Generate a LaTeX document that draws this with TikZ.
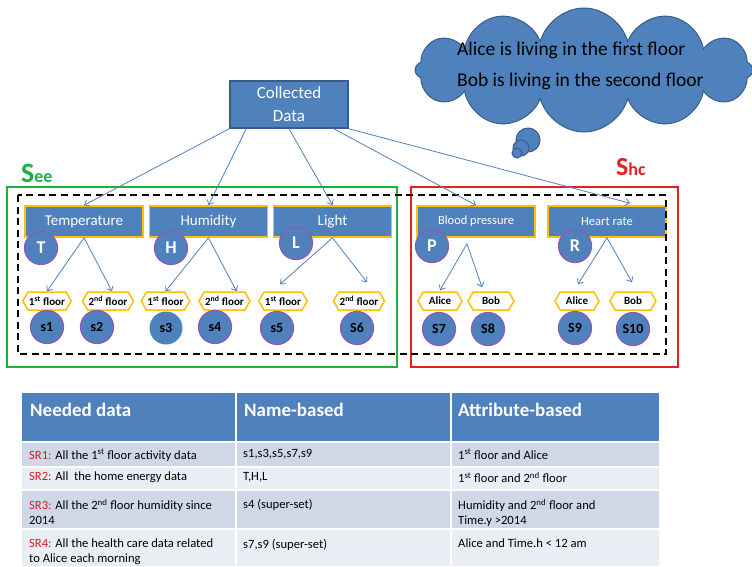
\documentclass[tikz,border=0pt]{standalone}
\usepackage{fontspec}
\setmainfont{Carlito}
\usepackage{xcolor}
\usepackage{tikz}
\usetikzlibrary{shapes.symbols, calc}
\usetikzlibrary{arrows.meta}
\definecolor{Cb}{RGB}{ 79,129,189}
\definecolor{Ce}{RGB}{ 56, 93,138}
\definecolor{Cg}{RGB}{255,192,  0}
\definecolor{Cp}{RGB}{140, 90,180}
\definecolor{Cgr}{RGB}{ 30,176, 60}
\definecolor{Cr}{RGB}{228, 32, 32}
\definecolor{Csr}{RGB}{212, 30, 30}
\definecolor{Crow1}{RGB}{208,216,232}
\definecolor{Crow2}{RGB}{233,237,244}

\tikzset{
    databox/.style={rectangle, fill=Cb, draw=Ce, line width=1.5pt, minimum width=118pt,
        minimum height=47pt, text=white, align=center, font=\fontsize{17}{23}\selectfont},
    cat/.style={rectangle, fill=Cb, draw=Cg, line width=1.6pt, minimum width=118pt,
        minimum height=31pt, text=white, font=\fontsize{15}{15}\selectfont},
    tag/.style={circle, fill=Cb, draw=Cp, line width=1.2pt, minimum size=33pt, inner sep=0pt,
        text=white, font=\bfseries\fontsize{18}{18}\selectfont},
    flag/.style={signal, signal to=west and east, signal pointer angle=120, fill=white, draw=Cg,
        line width=1.5pt, minimum height=18pt, inner xsep=1pt, inner ysep=0pt,
        font=\bfseries\fontsize{11}{11}\selectfont},
    sensor/.style={circle, fill=Cb, draw=Cp, line width=1.2pt, minimum size=33pt, inner sep=0pt,
        font=\bfseries\fontsize{14}{14}\selectfont},
    bubble/.style={circle, fill=Cb, draw=Ce, line width=1pt, inner sep=0pt},
    link/.style={Cb, line width=0.8pt, -{Straight Barb[length=4pt, width=7pt]}},
    thought/.style={anchor=base west, inner sep=0pt, font=\fontsize{19.5}{19.5}\selectfont},
    cell/.style={anchor=north west, inner sep=0pt, align=left, font=\fontsize{12.6}{15}\selectfont},
    head/.style={anchor=base west, inner sep=0pt, text=white, font=\bfseries\fontsize{19}{19}\selectfont},
}

\begin{document}
\begin{tikzpicture}[x=1pt, y=-1pt]

    \useasboundingbox (0,0) rectangle (752,566);

    %% Thought cloud
    \node[cloud, cloud puffs=12, aspect=2.9, fill=Cb, draw=Ce, line width=1pt,
          minimum width=338pt, minimum height=124pt] (cloud) at (584,70) {};
    \node[bubble, minimum size=24pt] (b1) at (528,140) {};
    \node[bubble, minimum size=16pt] (b2) at (521,148) {};
    \node[bubble, minimum size=10pt] (b3) at (517,153) {};
    \node[thought] (alice) at (457,55) {Alice is living in the first floor};
    \node[thought] (bob) at (457,86) {Bob is living in the second floor};

    %% Root
    \node[databox] (data) at (289,104.5) {Collected\\Data};

    %% Groups
    \node[anchor=base west, inner sep=0pt, text=Cgr, font=\bfseries] (see) at (21,182)
        {{\fontsize{28}{28}\selectfont S}{\fontsize{18}{18}\selectfont ee}};
    \node[anchor=base west, inner sep=0pt, text=Cr, font=\bfseries] (shc) at (616,175)
        {{\fontsize{26}{26}\selectfont S}{\fontsize{18}{18}\selectfont hc}};
    \draw[Cgr, line width=1.5pt] (7,187) rectangle (397,367);
    \draw[Cr, line width=1.5pt] (411,187) rectangle (678,367);

    %% Measured quantities
    \node[cat] (temp) at (84,221.5) {Temperature};
    \node[cat] (hum) at (208.5,221.5) {Humidity};
    \node[cat] (light) at (332.5,221.5) {Light};
    \node[cat, font=\fontsize{12.5}{12.5}\selectfont] (bp) at (476,221.5) {Blood pressure};
    \node[cat, font=\fontsize{12.5}{12.5}\selectfont] (hr) at (607,221.5) {Heart rate};

    \node[tag] (T) at (41,248) {T};
    \node[tag] (H) at (171,248) {H};
    \node[tag] (L) at (296,243) {L};
    \node[tag] (P) at (432,246) {P};
    \node[tag] (R) at (575,246) {R};

    \draw[black, line width=2pt, dash pattern=on 7pt off 4.5pt] (18,195) rectangle (666,354);

    %% Attributes
    \node[flag] (t1) at (47,301) {1\textsuperscript{st} floor};
    \node[flag] (t2) at (108,301) {2\textsuperscript{nd} floor};
    \node[flag] (h1) at (165.5,301) {1\textsuperscript{st} floor};
    \node[flag] (h2) at (224.5,301) {2\textsuperscript{nd} floor};
    \node[flag] (l1) at (283,301) {1\textsuperscript{st} floor};
    \node[flag] (l2) at (359,301) {2\textsuperscript{nd} floor};
    \node[flag, minimum width=44pt] (p1) at (440,301) {Alice};
    \node[flag, minimum width=46pt] (p2) at (491,301) {Bob};
    \node[flag, minimum width=44pt] (r1) at (577,301) {Alice};
    \node[flag, minimum width=46pt] (r2) at (633,301) {Bob};

    %% Sensors
    \node[sensor] (s1) at (47,327) {s1};
    \node[sensor] (s2) at (97,327) {s2};
    \node[sensor, draw=none] (s3) at (166,328) {s3};
    \node[sensor] (s4) at (215,327) {s4};
    \node[sensor] (s5) at (277,328) {s5};
    \node[sensor] (s6) at (357,328) {S6};
    \node[sensor] (s7) at (439,329) {S7};
    \node[sensor] (s8) at (488,329) {S8};
    \node[sensor] (s9) at (575,328) {S9};
    \node[sensor] (s10) at (633,329) {S10};

    %% Links
    \draw[link] (data.south west) -- (temp.north);
    \draw[link] ($(data.south west)+(17,0)$) -- (hum.north);
    \draw[link] (data.south) -- (light.north);
    \draw[link] ($(data.south east)+(-15,0)$) -- (bp.north);
    \draw[link] (data.south east) -- ($(hr.north)+(23,-2)$);

    \draw[link] (temp.south) -- (t1.north);
    \draw[link] (temp.south) -- ($(t2.north)+(4,0)$);
    \draw[link] (hum.south) -- (h1.north);
    \draw[link] (hum.south) -- ($(h2.north)+(12,0)$);
    \draw[link] (light.south) -- ($(l1.north)+(-3,-7)$);
    \draw[link] (light.south) -- ($(l2.north)+(8,-9)$);
    \draw[link] ($(bp.south)+(-9,6)$) -- ($(p1.north)+(0,-1)$);
    \draw[link] ($(bp.south)+(-9,6)$) -- ($(p2.north)+(-9,-4)$);
    \draw[link] (hr.south) -- ($(r1.north)+(1,-7)$);
    \draw[link] (hr.south) -- ($(r2.north)+(-1,-9)$);

    %% Request table
    \fill[Cb] (22,393) rectangle (659,442);
    \fill[Crow1] (22,442) rectangle (659,467);
    \fill[Crow2] (22,467) rectangle (659,490);
    \fill[Crow1] (22,490) rectangle (659,529);
    \fill[Crow2] (22,529) rectangle (659,566);
    \draw[white, line width=1.5pt] (22,442) -- (659,442) (22,467) -- (659,467)
        (22,490) -- (659,490) (22,529) -- (659,529) (236,393) -- (236,566) (451,393) -- (451,566);

    \node[head] (needed) at (30,416) {Needed data};
    \node[head] (names) at (244,416) {Name-based};
    \node[head] (attrs) at (458,416) {Attribute-based};

    \node[cell] (r1a) at (29,449) {\textcolor{Csr}{SR1:} All the 1\textsuperscript{st} floor activity data};
    \node[cell] (r1b) at (243,449) {s1,s3,s5,s7,s9};
    \node[cell] (r1c) at (458,449) {1\textsuperscript{st} floor and Alice};

    \node[cell] (r2a) at (29,472) {\textcolor{Csr}{SR2:} All \ the home energy data};
    \node[cell] (r2b) at (243,472) {T,H,L};
    \node[cell] (r2c) at (458,472) {1\textsuperscript{st} floor and 2\textsuperscript{nd} floor};

    \node[cell] (r3a) at (29,499) {\textcolor{Csr}{SR3:} All the 2\textsuperscript{nd} floor humidity since\\2014};
    \node[cell] (r3b) at (243,499) {s4 (super-set)};
    \node[cell] (r3c) at (458,499) {Humidity and 2\textsuperscript{nd} floor and\\Time.y >2014};

    \node[cell] (r4a) at (29,539) {\textcolor{Csr}{SR4:} All the health care data related\\to Alice each morning};
    \node[cell] (r4b) at (243,539) {s7,s9 (super-set)};
    \node[cell] (r4c) at (458,539) {Alice and Time.h < 12 am};

\end{tikzpicture}
\end{document}
